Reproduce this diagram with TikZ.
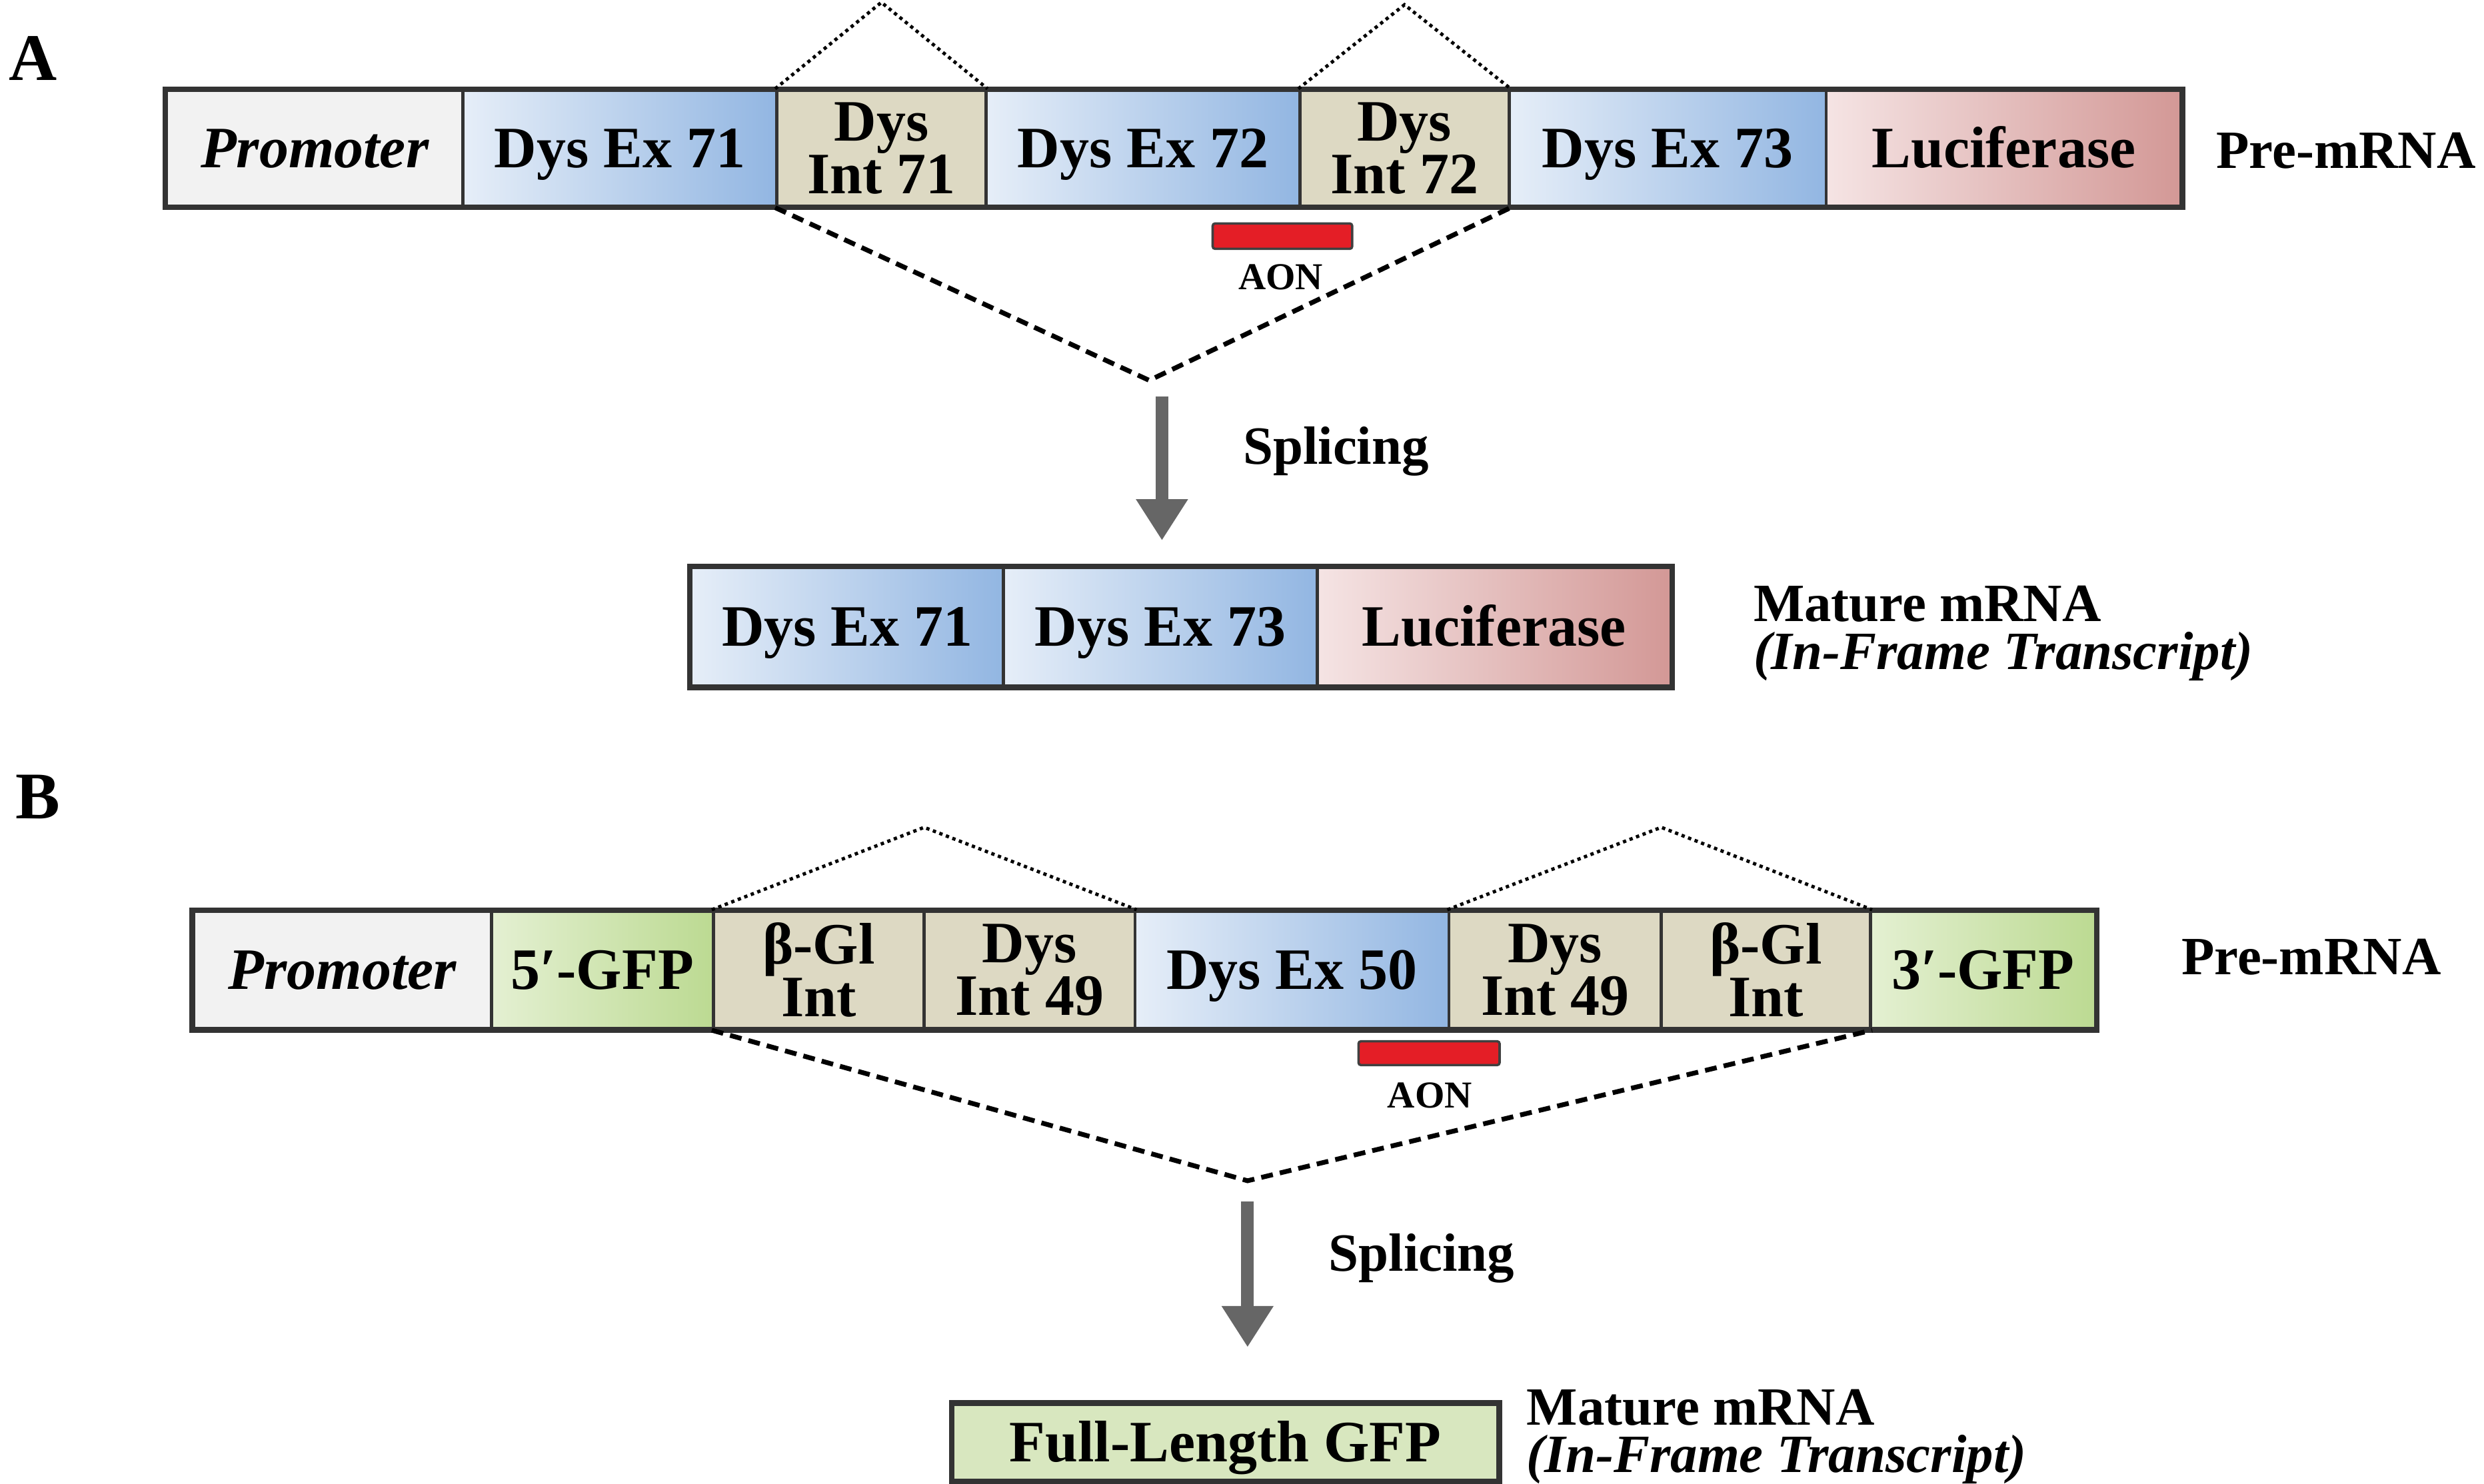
\documentclass[tikz,border=0pt]{standalone}
\usepackage{fontspec}
\setmainfont{Liberation Serif}
\usetikzlibrary{arrows.meta}
\definecolor{promc}{HTML}{F2F2F2}
\definecolor{exL}{HTML}{E6EEF8}
\definecolor{exR}{HTML}{92B6E2}
\definecolor{intc}{HTML}{DDD9C3}
\definecolor{lucL}{HTML}{F5E4E4}
\definecolor{lucR}{HTML}{D39896}
\definecolor{gfpL}{HTML}{E4F0D2}
\definecolor{gfpR}{HTML}{BCDA92}
\definecolor{gfpc}{HTML}{D8E7BF}
\definecolor{aonc}{HTML}{E41E26}
\definecolor{edge}{HTML}{333333}
\definecolor{arrc}{HTML}{666666}
\tikzset{
  seg/.style={draw=edge, line width=2pt, inner sep=0pt, align=center,
    font=\fontsize{37}{33}\selectfont\bfseries, text=black},
  oneline/.style={text height=24.4pt, text depth=0pt},
  rowframe/.style={draw=edge, line width=3pt},
  promseg/.style={seg, oneline, fill=promc, font=\fontsize{37}{33}\selectfont\bfseries\itshape},
  exonseg/.style={seg, oneline, left color=exL, right color=exR},
  intrseg/.style={seg, fill=intc},
  lucseg/.style={seg, oneline, left color=lucL, right color=lucR},
  gfpseg/.style={seg, oneline, left color=gfpL, right color=gfpR},
  sidelbl/.style={anchor=west, inner sep=0pt, font=\fontsize{34}{36}\selectfont\bfseries},
  sidelblit/.style={sidelbl, font=\fontsize{34}{36}\selectfont\bfseries\itshape},
  panellbl/.style={inner sep=0pt, font=\fontsize{42}{42}\selectfont\bfseries},
  aonbar/.style={draw=black!75, fill=aonc, line width=1.5pt, rounded corners=1.5pt, inner sep=0pt},
  aonlbl/.style={inner sep=0pt, font=\fontsize{24}{24}\selectfont\bfseries},
  dotV/.style={draw=black, line width=2.1pt, dash pattern=on 2.1pt off 2.3pt},
  dashV/.style={draw=black, line width=3pt, dash pattern=on 7.5pt off 4.5pt},
  splarrow/.style={draw=arrc, line width=8pt, -{Triangle[width=31pt,length=26pt]}}
}
\begin{document}
\begin{tikzpicture}[x=1pt,y=-1pt]
\useasboundingbox (0,0) rectangle (1567,936.3);

% ---------------- Panel A ----------------
\node[panellbl] (labA) at (21,37) {A};

\node[promseg, minimum width=187pt, minimum height=73pt] (promA) at (198.5,93.5) {Promoter};
\node[exonseg, minimum width=198pt, minimum height=73pt] (ex71) at (391,93.5) {Dys Ex 71};
\node[intrseg, minimum width=132pt, minimum height=73pt] (int71) at (556,93.5) {Dys\\Int 71};
\node[exonseg, minimum width=198pt, minimum height=73pt] (ex72) at (721,93.5) {Dys Ex 72};
\node[intrseg, minimum width=132pt, minimum height=73pt] (int72) at (886,93.5) {Dys\\Int 72};
\node[exonseg, minimum width=200pt, minimum height=73pt] (ex73) at (1052,93.5) {Dys Ex 73};
\node[lucseg, minimum width=224pt, minimum height=73pt] (lucA) at (1264,93.5) {Luciferase};
\draw[rowframe] (promA.north west) rectangle (lucA.south east);
\node[sidelbl] (preA) at (1398,95) {Pre-mRNA};

\coordinate (pkA1) at (556,1.5);
\coordinate (pkA2) at (886,3);
\draw[dotV] (int71.north west) -- (pkA1) -- (int71.north east);
\draw[dotV] (int72.north west) -- (pkA2) -- (int72.north east);
\coordinate (vA) at (725,240);
\draw[dashV] (int71.south west) -- (vA) -- (int72.south east);

\node[aonbar, minimum width=88pt, minimum height=16pt] (aonA) at (809,149) {};
\node[aonlbl] (aonAl) at (808,175) {AON};

\coordinate (arrAs) at (733,250);
\coordinate (arrAe) at (733,341);
\draw[splarrow] (arrAs) -- (arrAe);
\node[sidelbl] (splA) at (784,285) {Splicing};

\node[exonseg, minimum width=197pt, minimum height=75pt] (mex71) at (534.5,395.5) {Dys Ex 71};
\node[exonseg, minimum width=198pt, minimum height=75pt] (mex73) at (732,395.5) {Dys Ex 73};
\node[lucseg, minimum width=223pt, minimum height=75pt] (mluc) at (942.5,395.5) {Luciferase};
\draw[rowframe] (mex71.north west) rectangle (mluc.south east);
\node[sidelbl] (matA) at (1106,381) {Mature mRNA};
\node[sidelblit] (ifA) at (1106,414) {(In-Frame Transcript)};

% ---------------- Panel B ----------------
\node[panellbl] (labB) at (24,503) {B};

\node[promseg, minimum width=188pt, minimum height=74pt] (promB) at (216,612) {Promoter};
\node[gfpseg, minimum width=140pt, minimum height=74pt] (gfp5) at (380,612) {5′-GFP};
\node[intrseg, minimum width=133pt, minimum height=74pt] (bgl1) at (516.5,612) {β-Gl\\Int};
\node[intrseg, minimum width=133pt, minimum height=74pt] (i49a) at (649.5,612) {Dys\\Int 49};
\node[exonseg, minimum width=198pt, minimum height=74pt] (ex50) at (815,612) {Dys Ex 50};
\node[intrseg, minimum width=134pt, minimum height=74pt] (i49b) at (981,612) {Dys\\Int 49};
\node[intrseg, minimum width=132pt, minimum height=74pt] (bgl2) at (1114,612) {β-Gl\\Int};
\node[gfpseg, minimum width=142pt, minimum height=74pt] (gfp3) at (1251,612) {3′-GFP};
\draw[rowframe] (promB.north west) rectangle (gfp3.south east);
\node[sidelbl] (preB) at (1376,604) {Pre-mRNA};

\coordinate (pkB1) at (583,522);
\coordinate (pkB2) at (1048,522);
\draw[dotV] (bgl1.north west) -- (pkB1) -- (i49a.north east);
\draw[dotV] (i49b.north west) -- (pkB2) -- (bgl2.north east);
\coordinate (vB) at (787,745);
\draw[dashV] (bgl1.south west) -- (vB) -- (bgl2.south east);

\node[aonbar, minimum width=89pt, minimum height=15pt] (aonB) at (901.5,664.5) {};
\node[aonlbl] (aonBl) at (902,691) {AON};

\coordinate (arrBs) at (787,758);
\coordinate (arrBe) at (787,850);
\draw[splarrow] (arrBs) -- (arrBe);
\node[sidelbl] (splB) at (838,794) {Splicing};

\node[seg, oneline, fill=gfpc, minimum width=344pt, minimum height=48pt] (fgfp) at (773,910) {Full-Length GFP};
\draw[rowframe] (fgfp.north west) rectangle (fgfp.south east);
\node[sidelbl] (matB) at (963,888) {Mature mRNA};
\node[sidelblit] (ifB) at (963,921) {(In-Frame Transcript)};
\end{tikzpicture}
\end{document}
